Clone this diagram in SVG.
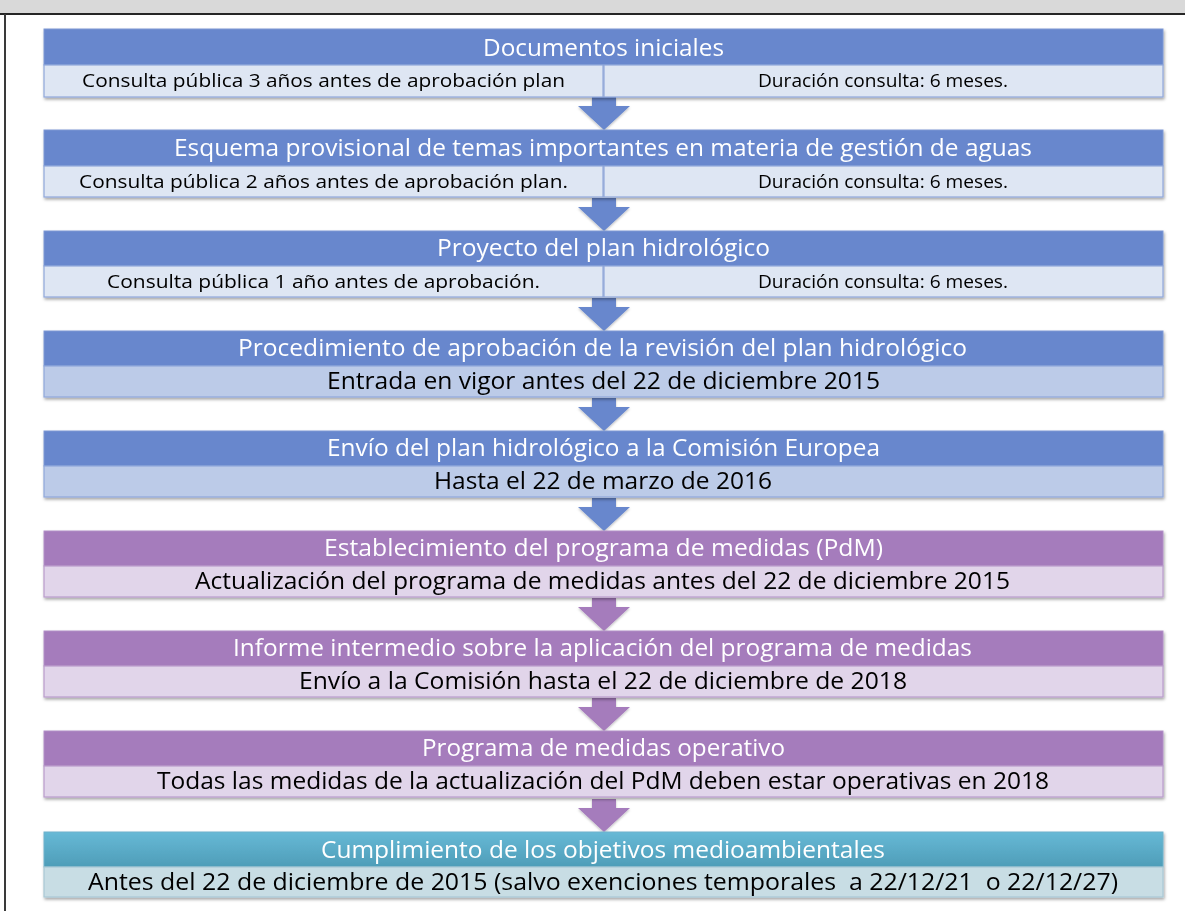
<svg xmlns="http://www.w3.org/2000/svg" width="1185" height="911" viewBox="0 0 1185 911">
<defs>
<filter id="sh" x="-5%" y="-20%" width="110%" height="150%">
<feDropShadow dx="1" dy="2" stdDeviation="1.8" flood-color="#000" flood-opacity="0.35"/>
</filter>
<filter id="ash" x="-20%" y="-20%" width="140%" height="150%">
<feDropShadow dx="0" dy="1.5" stdDeviation="1.2" flood-color="#000" flood-opacity="0.25"/>
</filter>
<linearGradient id="cyan" x1="0" y1="0" x2="0" y2="1">
<stop offset="0" stop-color="#67b9d6"/>
<stop offset="1" stop-color="#4e9db8"/>
</linearGradient>
<path id="arr" d="M-12,0 H12 V9 H26 L0,33 L-26,9 H-12 Z"/>
</defs>
<style>
.hb{fill:#6787cd;stroke:#7e98d4;stroke-width:1}
.hp{fill:#a57bbc;stroke:#b190c6;stroke-width:1}
.hc{fill:url(#cyan);stroke:#6fb2cb;stroke-width:1}
.rb{fill:#dee6f3;stroke:#8fa7da;stroke-width:1.2}
.rb2{fill:#bccbe8;stroke:#8fa7da;stroke-width:1.2}
.rp{fill:#e1d5ea;stroke:#b99ccb;stroke-width:1.2}
.rc{fill:#c8dde4;stroke:#a9c9d5;stroke-width:1.2}
.th{font-family:"Open Sans","Noto Sans",sans-serif;font-size:23px;fill:#ffffff;text-anchor:middle}
.tr{font-family:"Open Sans","Noto Sans",sans-serif;font-size:23px;fill:#000000;text-anchor:middle}
.ts{font-family:"Open Sans","Noto Sans",sans-serif;font-size:18px;fill:#000000;text-anchor:middle}
.ab{fill:#6787cd}
.ap{fill:#a57bbc}
</style>
<rect x="0" y="0" width="1185" height="911" fill="#ffffff"/>
<rect x="0" y="0" width="1185" height="14" fill="#d9d9d9"/>
<line x1="0" y1="14" x2="1185" y2="14" stroke="#262626" stroke-width="2"/>
<line x1="5" y1="14" x2="5" y2="911" stroke="#3a3a3a" stroke-width="2"/>

<g id="connectors" filter="url(#ash)">
<use href="#arr" class="ab" x="604" y="97"/>
<use href="#arr" class="ab" x="604" y="198"/>
<use href="#arr" class="ab" x="604" y="298"/>
<use href="#arr" class="ab" x="604" y="398"/>
<use href="#arr" class="ab" x="604" y="498"/>
<use href="#arr" class="ap" x="604" y="598"/>
<use href="#arr" class="ap" x="604" y="698"/>
<use href="#arr" class="ap" x="604" y="799"/>
</g>

<g id="n1" filter="url(#sh)">
<rect class="hb" x="44" y="29" width="1119" height="36"/>
<rect class="rb" x="44" y="65" width="559" height="32"/>
<rect class="rb" x="604" y="65" width="559" height="32"/>
<text class="th" x="603.5" y="56" textLength="241" lengthAdjust="spacingAndGlyphs">Documentos iniciales</text>
<text class="ts" x="323.5" y="87" textLength="483" lengthAdjust="spacingAndGlyphs">Consulta pública 3 años antes de aprobación plan</text>
<text class="ts" x="883" y="87" textLength="250" lengthAdjust="spacingAndGlyphs">Duración consulta: 6 meses.</text>
</g>

<g id="n2" filter="url(#sh)">
<rect class="hb" x="44" y="130" width="1119" height="36"/>
<rect class="rb" x="44" y="166" width="559" height="31"/>
<rect class="rb" x="604" y="166" width="559" height="31"/>
<text class="th" x="603" y="156" textLength="858" lengthAdjust="spacingAndGlyphs">Esquema provisional de temas importantes en materia de gestión de aguas</text>
<text class="ts" x="323.5" y="188" textLength="489" lengthAdjust="spacingAndGlyphs">Consulta pública 2 años antes de aprobación plan.</text>
<text class="ts" x="883" y="188" textLength="250" lengthAdjust="spacingAndGlyphs">Duración consulta: 6 meses.</text>
</g>

<g id="n3" filter="url(#sh)">
<rect class="hb" x="44" y="231" width="1119" height="35"/>
<rect class="rb" x="44" y="266" width="559" height="31"/>
<rect class="rb" x="604" y="266" width="559" height="31"/>
<text class="th" x="603.5" y="256" textLength="333" lengthAdjust="spacingAndGlyphs">Proyecto del plan hidrológico</text>
<text class="ts" x="323.5" y="288" textLength="433" lengthAdjust="spacingAndGlyphs">Consulta pública 1 año antes de aprobación.</text>
<text class="ts" x="883" y="288" textLength="250" lengthAdjust="spacingAndGlyphs">Duración consulta: 6 meses.</text>
</g>

<g id="n4" filter="url(#sh)">
<rect class="hb" x="44" y="331" width="1119" height="35"/>
<rect class="rb2" x="44" y="366" width="1119" height="31"/>
<text class="th" x="602.5" y="356" textLength="729" lengthAdjust="spacingAndGlyphs">Procedimiento de aprobación de la revisión del plan hidrológico</text>
<text class="tr" x="603.5" y="389" textLength="553" lengthAdjust="spacingAndGlyphs">Entrada en vigor antes del 22 de diciembre 2015</text>
</g>

<g id="n5" filter="url(#sh)">
<rect class="hb" x="44" y="431" width="1119" height="35"/>
<rect class="rb2" x="44" y="466" width="1119" height="31"/>
<text class="th" x="603.5" y="456" textLength="553" lengthAdjust="spacingAndGlyphs">Envío del plan hidrológico a la Comisión Europea</text>
<text class="tr" x="603" y="489" textLength="338" lengthAdjust="spacingAndGlyphs">Hasta el 22 de marzo de 2016</text>
</g>

<g id="n6" filter="url(#sh)">
<rect class="hp" x="44" y="531" width="1119" height="35"/>
<rect class="rp" x="44" y="566" width="1119" height="31"/>
<text class="th" x="603.5" y="556" textLength="559" lengthAdjust="spacingAndGlyphs">Establecimiento del programa de medidas (PdM)</text>
<text class="tr" x="602.5" y="589" textLength="815" lengthAdjust="spacingAndGlyphs">Actualización del programa de medidas antes del 22 de diciembre 2015</text>
</g>

<g id="n7" filter="url(#sh)">
<rect class="hp" x="44" y="631" width="1119" height="35"/>
<rect class="rp" x="44" y="666" width="1119" height="31"/>
<text class="th" x="602.5" y="656" textLength="739" lengthAdjust="spacingAndGlyphs">Informe intermedio sobre la aplicación del programa de medidas</text>
<text class="tr" x="603" y="689" textLength="608" lengthAdjust="spacingAndGlyphs">Envío a la Comisión hasta el 22 de diciembre de 2018</text>
</g>

<g id="n8" filter="url(#sh)">
<rect class="hp" x="44" y="731" width="1119" height="35"/>
<rect class="rp" x="44" y="766" width="1119" height="31"/>
<text class="th" x="603.5" y="756" textLength="363" lengthAdjust="spacingAndGlyphs">Programa de medidas operativo</text>
<text class="tr" x="603" y="789" textLength="892" lengthAdjust="spacingAndGlyphs">Todas las medidas de la actualización del PdM deben estar operativas en 2018</text>
</g>

<g id="n9" filter="url(#sh)">
<rect class="hc" x="44" y="832" width="1119" height="35"/>
<rect class="rc" x="44" y="867" width="1119" height="30"/>
<text class="th" x="603" y="858" textLength="564" lengthAdjust="spacingAndGlyphs">Cumplimiento de los objetivos medioambientales</text>
<text class="tr" x="603" y="890" textLength="1030" lengthAdjust="spacingAndGlyphs" style="white-space:pre">Antes del 22 de diciembre de 2015 (salvo exenciones temporales  a 22/12/21  o 22/12/27)</text>
</g>
</svg>
